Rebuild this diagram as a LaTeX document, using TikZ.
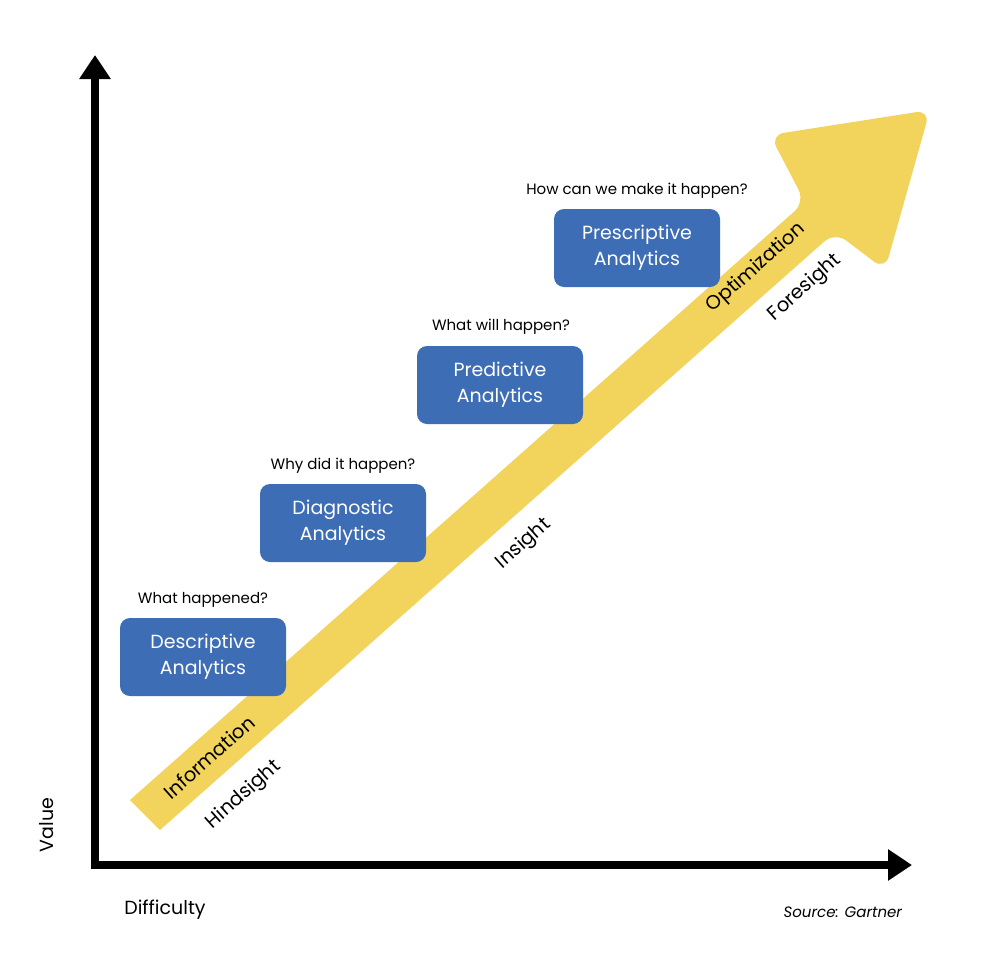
\documentclass[tikz,border=0pt]{standalone}
\usepackage{fontspec}
\setmainfont{Poppins}
\usetikzlibrary{arrows.meta}
\definecolor{boxblue}{HTML}{3D6DB5}
\definecolor{arrowyellow}{HTML}{F2D45C}
\tikzset{
  abox/.style={draw=none,fill=boxblue,rounded corners=10pt,minimum width=166pt,minimum height=78pt,text=white,font=\fontsize{19}{26}\selectfont,align=center},
  qtext/.style={font=\fontsize{15}{18}\selectfont},
  diag/.style={font=\fontsize{19.5}{22}\selectfont,rotate=41.6},
  axis/.style={line width=8pt,-{Triangle[length=24pt,width=30pt]}}
}
\begin{document}
\begin{tikzpicture}[x=1pt,y=-1pt]
\useasboundingbox (0,0) rectangle (980,980);
\fill[white] (0,0) rectangle (980,980);
% yellow arrow
\fill[arrowyellow] (130,800) [rounded corners=14pt] -- (805,202) -- (770,135) -- (930,110) -- (885,270) -- (835,232) [sharp corners] -- (160,830) -- cycle;
% axes
\coordinate (o) at (95,865);
\coordinate (ytop) at (95,55);
\coordinate (xend) at (912,865);
\draw[axis] ([yshift=-4pt]o) -- (ytop);
\draw[axis] ([xshift=-4pt]o) -- (xend);
% boxes
\node[abox] (desc) at (203,657) {Descriptive\\Analytics};
\node[abox] (diag) at (343,523) {Diagnostic\\Analytics};
\node[abox] (pred) at (500,385) {Predictive\\Analytics};
\node[abox] (pres) at (637,248) {Prescriptive\\Analytics};
\node[qtext] (q1) at (203,600) {What happened?};
\node[qtext] (q2) at (343,466) {Why did it happen?};
\node[qtext] (q3) at (501,327) {What will happen?};
\node[qtext] (q4) at (637,191) {How can we make it happen?};
% arrow labels
\node[diag] (l1) at (209,757) {Information};
\node[diag] (l2) at (244,795) {Hindsight};
\node[diag] (l3) at (524,544) {Insight};
\node[diag] (l4) at (756,268) {Optimization};
\node[diag] (l5) at (805,288) {Foresight};
% axis labels
\node[font=\fontsize{19}{22}\selectfont,rotate=90] (val) at (47,825) {Value};
\node[font=\fontsize{19}{22}\selectfont] (dif) at (165,910) {Difficulty};
\node[font=\fontsize{15}{18}\selectfont] (src) at (843,912) {\textit{Source: Gartner}};
\end{tikzpicture}
\end{document}
